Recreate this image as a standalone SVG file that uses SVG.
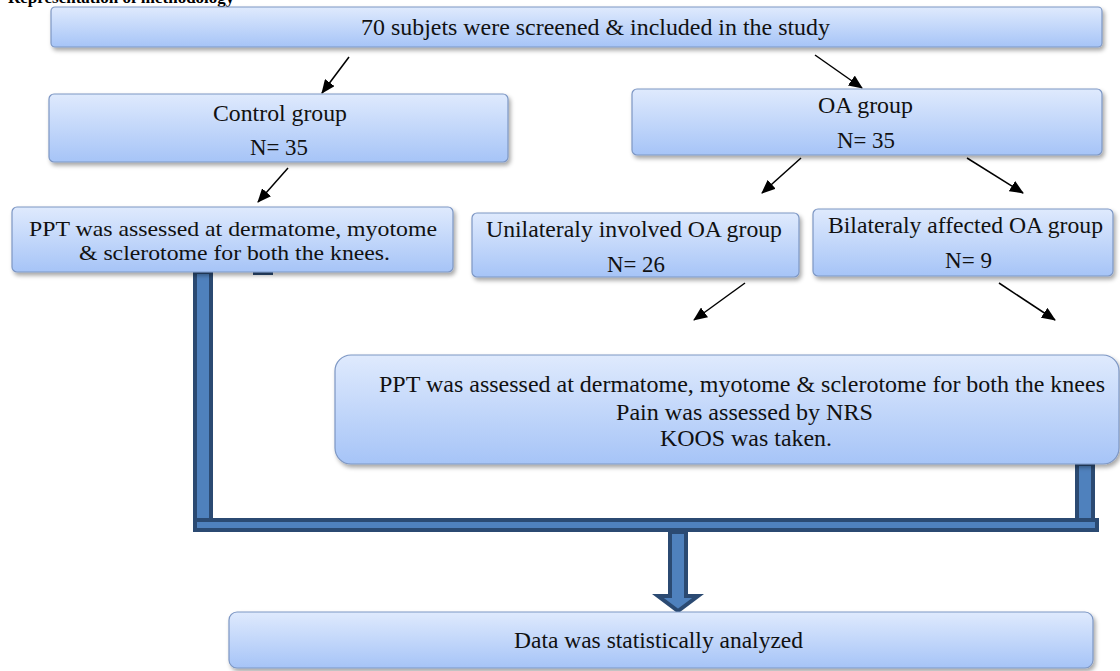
<svg xmlns="http://www.w3.org/2000/svg" width="1120" height="671" viewBox="0 0 1120 671">
<style>
.box{fill:url(#g);stroke:#7d97c4;stroke-width:1.2;filter:url(#sh)}
.t{font-family:"Liberation Serif","Times New Roman",serif;font-size:23px;fill:#111}
.s{font-size:21px}
.title{font-family:"Liberation Serif","Times New Roman",serif;font-size:17px;font-weight:bold;fill:#000}
.ln{stroke:#000;stroke-width:1.5;fill:none;marker-end:url(#ah)}
.bar{fill:#4f81bd;stroke:#2b4a72;stroke-width:4}
</style>
<defs>
<linearGradient id="g" x1="0" y1="0" x2="0" y2="1">
<stop offset="0" stop-color="#dfeafd"/>
<stop offset="1" stop-color="#a6c4f7"/>
</linearGradient>
<filter id="sh" x="-5%" y="-20%" width="115%" height="150%">
<feDropShadow dx="2" dy="3" stdDeviation="2" flood-color="#000" flood-opacity="0.35"/>
</filter>
<marker id="ah" markerUnits="userSpaceOnUse" markerWidth="14" markerHeight="12" refX="13" refY="6" orient="auto">
<path d="M0,0 L14,6 L0,12 z" fill="#000"/>
</marker>
</defs>
<rect width="1120" height="671" fill="#fff"/>
<text class="title" x="8" y="3">Representation of methodology</text>

<g id="connectors">
<line class="ln" x1="349" y1="57" x2="322" y2="93"/>
<line class="ln" x1="815" y1="55" x2="862" y2="88"/>
<line class="ln" x1="288" y1="168" x2="258" y2="202"/>
<line class="ln" x1="801" y1="158" x2="762" y2="193"/>
<line class="ln" x1="967" y1="158" x2="1023" y2="193"/>
<line class="ln" x1="745" y1="283" x2="694" y2="320"/>
<line class="ln" x1="999" y1="283" x2="1055" y2="320"/>
<rect x="253" y="271" width="20" height="4" fill="#2b4a72"/>
<rect class="bar" x="195" y="272" width="16" height="250"/>
<rect class="bar" x="1077" y="464" width="16" height="58"/>
<rect class="bar" x="195" y="520" width="902" height="10"/>
<polygon class="bar" stroke-width="3" points="670,532 686,532 686,596 698,596 678,611 658,596 670,596"/>
</g>

<g id="n-all">
<rect class="box" x="51" y="7" width="1051" height="40" rx="4"/>
<text class="t" x="361" y="35" textLength="469" lengthAdjust="spacingAndGlyphs">70 subjets were screened &amp; included in the study</text>
</g>

<g id="n-control">
<rect class="box" x="49" y="94" width="459" height="68" rx="5"/>
<text class="t" x="213" y="121" textLength="134" lengthAdjust="spacingAndGlyphs">Control group</text>
<text class="t" x="250" y="155" textLength="58" lengthAdjust="spacingAndGlyphs">N= 35</text>
</g>

<g id="n-oa">
<rect class="box" x="632" y="89" width="470" height="66" rx="5"/>
<text class="t" x="818" y="113" textLength="95" lengthAdjust="spacingAndGlyphs">OA group</text>
<text class="t" x="837" y="148" textLength="58" lengthAdjust="spacingAndGlyphs">N= 35</text>
</g>

<g id="n-ppt-control">
<rect class="box" x="12" y="207" width="441" height="65" rx="5"/>
<text class="t s" x="29" y="236" textLength="408" lengthAdjust="spacingAndGlyphs">PPT was assessed at dermatome,  myotome</text>
<text class="t s" x="79" y="260" textLength="311" lengthAdjust="spacingAndGlyphs">&amp; sclerotome  for both the knees.</text>
</g>

<g id="n-uni">
<rect class="box" x="472" y="213" width="327" height="64" rx="5"/>
<text class="t" x="486" y="237" textLength="296" lengthAdjust="spacingAndGlyphs">Unilateraly involved OA group</text>
<text class="t" x="607" y="272" textLength="58" lengthAdjust="spacingAndGlyphs">N= 26</text>
</g>

<g id="n-bi">
<rect class="box" x="813" y="209" width="300" height="67" rx="5"/>
<text class="t" x="828" y="233" textLength="275" lengthAdjust="spacingAndGlyphs">Bilateraly affected  OA group</text>
<text class="t" x="945" y="268" textLength="47" lengthAdjust="spacingAndGlyphs">N= 9</text>
</g>

<g id="n-ppt-oa">
<rect class="box" x="335" y="355" width="784" height="109" rx="16"/>
<text class="t" x="379" y="392" textLength="726" lengthAdjust="spacingAndGlyphs">PPT was assessed at dermatome, myotome &amp; sclerotome  for both the knees</text>
<text class="t" x="616" y="420" textLength="257" lengthAdjust="spacingAndGlyphs">Pain was assessed by NRS</text>
<text class="t" x="660" y="446" textLength="172" lengthAdjust="spacingAndGlyphs">KOOS was taken.</text>
</g>

<g id="n-data">
<rect class="box" x="229" y="612" width="864" height="56" rx="8"/>
<text class="t" x="514" y="648" textLength="289" lengthAdjust="spacingAndGlyphs">Data was statistically  analyzed</text>
</g>
</svg>
